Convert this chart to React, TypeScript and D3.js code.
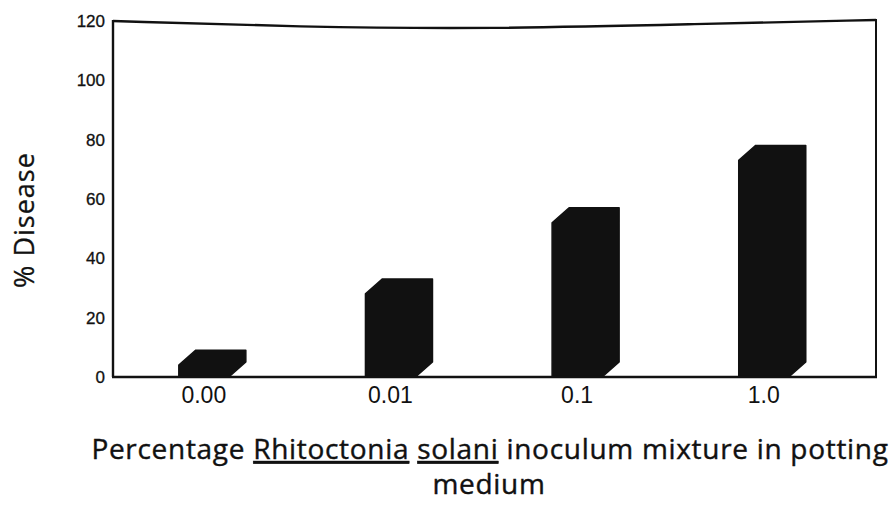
import React from "react";
import * as d3 from "d3";

const categories = ["0.00", "0.01", "0.1", "1.0"];
const diseaseValues = [4, 28, 52, 73];
const yTicks = [0, 20, 40, 60, 80, 100, 120];

const W = 894;
const H = 505;
const left = 113;
const right = 876;
const top = 21;
const bottom = 377;
const depthX = 17;
const depthY = 15;

export default function App() {
  const x = d3
    .scaleBand<string>()
    .domain(categories)
    .range([left, right])
    .paddingInner(0.732)
    .paddingOuter(0.41)
    .align(0.43);
  const y = d3.scaleLinear().domain([0, 120]).range([bottom, top]);

  const frame = d3.line().curve(d3.curveBasis)([
    [left, top],
    [left, top],
    [300, 27],
    [490, 29],
    [700, 24],
    [right, 20],
    [right, 20],
  ]) as string;

  const barPath = (cat: string, v: number) => {
    const x0 = x(cat)!;
    const x1 = x0 + x.bandwidth();
    const y0 = y(0);
    const yt = y(v);
    const p = d3.path();
    p.moveTo(x0, y0);
    p.lineTo(x0, yt);
    p.lineTo(x0 + depthX, yt - depthY);
    p.lineTo(x1 + depthX, yt - depthY);
    p.lineTo(x1 + depthX, y0 - depthY);
    p.lineTo(x1, y0);
    p.closePath();
    return p.toString();
  };

  const tickFont = "'Liberation Sans', Arial, sans-serif";
  const titleFont = "'Open Sans', Lato, sans-serif";

  return (
    <svg
      width={W}
      height={H}
      style={{ position: "absolute", left: 0, top: 0, background: "#fff" }}
    >
      {/* frame */}
      <path d={frame} fill="none" stroke="#111" strokeWidth={2.4} />
      <line x1={left} y1={top - 1} x2={left} y2={bottom} stroke="#111" strokeWidth={2.4} />
      <line x1={right} y1={19} x2={right} y2={bottom} stroke="#111" strokeWidth={2} />

      {/* bars */}
      {categories.map((c, i) => (
        <path
          key={c}
          d={barPath(c, diseaseValues[i])}
          fill="#111"
          stroke="#111"
          strokeWidth={1.5}
          strokeLinejoin="round"
        />
      ))}

      <line x1={left - 1} y1={bottom} x2={right + 1} y2={bottom} stroke="#111" strokeWidth={2.4} />

      {/* y ticks */}
      {yTicks.map((t) => (
        <text
          key={t}
          x={left - 8}
          y={y(t)}
          dy="0.36em"
          textAnchor="end"
          fontFamily={tickFont}
          fontSize={17}
          fill="#111"
          stroke="#111"
          strokeWidth={0.3}
        >
          {t}
        </text>
      ))}

      {/* x labels */}
      {categories.map((c) => (
        <text
          key={c}
          x={x(c)! + x.bandwidth() / 2}
          y={403}
          textAnchor="middle"
          fontFamily={tickFont}
          fontSize={23}
          fill="#111"
        >
          {c}
        </text>
      ))}

      {/* y title */}
      <text
        transform="translate(34,220) rotate(-90)"
        textAnchor="middle"
        fontFamily={titleFont}
        fontSize={27}
        letterSpacing={1}
        fill="#111"
        stroke="#111"
        strokeWidth={0.3}
      >
        % Disease
      </text>

      {/* x title */}
      <text
        x={490}
        y={459}
        textAnchor="middle"
        fontFamily={titleFont}
        fontSize={28}
        letterSpacing={0.7}
        fill="#111"
        stroke="#111"
        strokeWidth={0.4}
      >
        Percentage{" "}
        <tspan style={{ textDecoration: "underline" }}>Rhitoctonia</tspan>{" "}
        <tspan style={{ textDecoration: "underline" }}>solani</tspan> inoculum mixture in potting
      </text>
      <text
        x={489}
        y={494}
        textAnchor="middle"
        fontFamily={titleFont}
        fontSize={28}
        letterSpacing={0.7}
        fill="#111"
        stroke="#111"
        strokeWidth={0.4}
      >
        medium
      </text>
    </svg>
  );
}
